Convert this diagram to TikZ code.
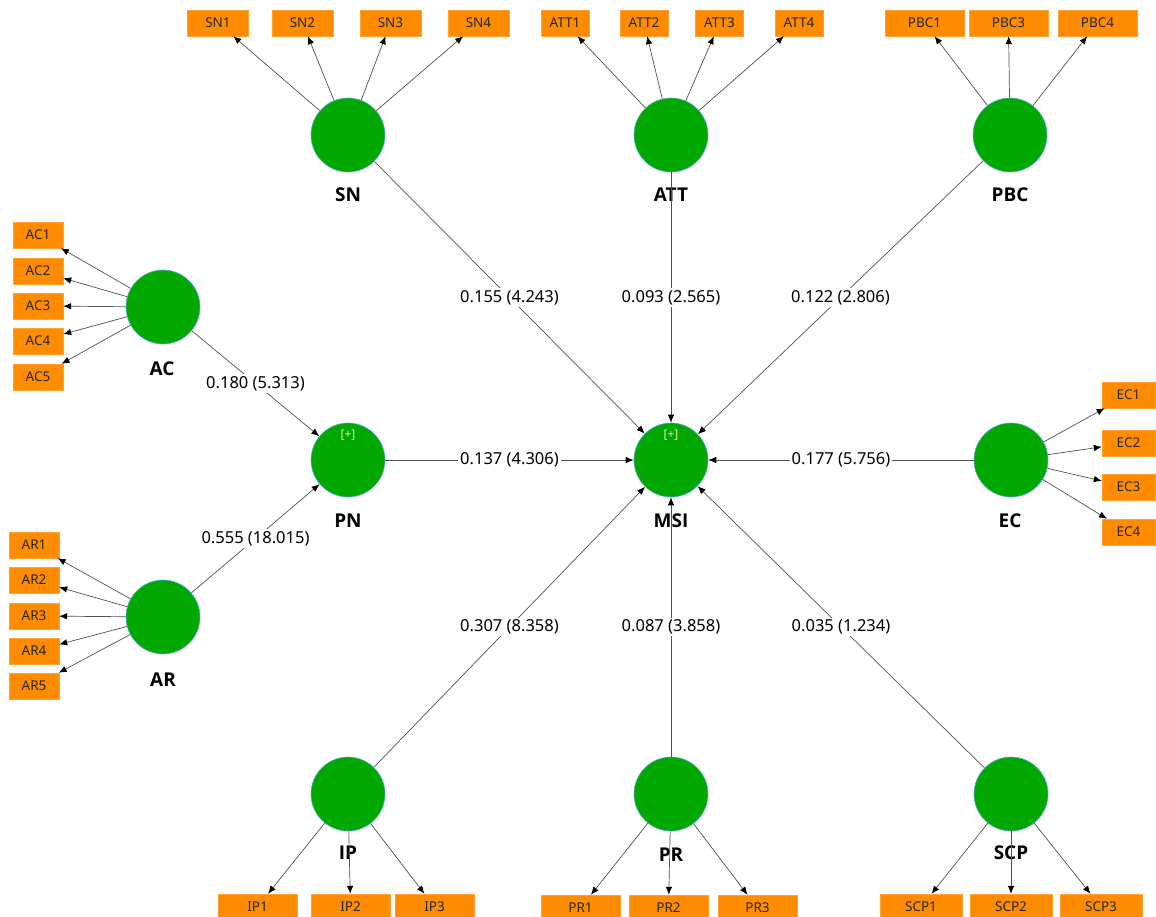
\documentclass[tikz,border=0pt]{standalone}
\usepackage{fontspec}
\setmainfont{Noto Sans}
\newfontfamily\lblfont{Open Sans}
\usetikzlibrary{arrows.meta}
\definecolor{lvgreen}{RGB}{0,168,0}
\definecolor{lvedge}{RGB}{90,170,220}
\definecolor{indorange}{RGB}{255,140,0}
\definecolor{linegray}{RGB}{80,80,80}
\definecolor{plusc}{RGB}{225,240,170}
\tikzset{
  lv/.style={circle,fill=lvgreen,draw=lvedge,line width=0.6pt,minimum size=74pt,inner sep=0pt},
  lvname/.style={font=\lblfont\fontsize{19}{21}\selectfont\bfseries,text=black,inner sep=0pt},
  ind/.style={rectangle,fill=indorange,draw=indorange!80!white,line width=0.4pt,minimum height=26pt,inner sep=0pt,font=\fontsize{13.5}{15}\selectfont,text=black!85},
  ld/.style={draw=linegray,line width=0.7pt,-{Latex[length=8pt,width=6.5pt,color=black,fill=black]}},
  coef/.style={fill=white,inner sep=2pt,font=\fontsize{16.5}{18}\selectfont,text=black},
  plus/.style={font=\fontsize{12}{13}\selectfont,text=plusc,inner sep=0pt}
}
\begin{document}
\begin{tikzpicture}[x=1pt,y=-1pt]
\useasboundingbox (0,0) rectangle (1156,917);
% latent variables
\node[lv] (SN) at (348,135) {};
\node[lv] (ATT) at (671,135) {};
\node[lv] (PBC) at (1010,135) {};
\node[lv] (AC) at (163,307) {};
\node[lv] (PN) at (348,460) {};
\node[lv] (MSI) at (671,460) {};
\node[lv] (EC) at (1011,460) {};
\node[lv] (AR) at (163,617) {};
\node[lv] (IP) at (348,794) {};
\node[lv] (PR) at (671,794) {};
\node[lv] (SCP) at (1011,794) {};
\node[plus] (PNp) at (348,435) {[+]};
\node[plus] (MSIp) at (671,435) {[+]};
% names
\node[lvname] (SNl) at (348,195) {SN};
\node[lvname] (ATTl) at (671,195) {ATT};
\node[lvname] (PBCl) at (1010,195) {PBC};
\node[lvname] (ACl) at (162,369) {AC};
\node[lvname] (PNl) at (348,521) {PN};
\node[lvname] (MSIl) at (671,521) {MSI};
\node[lvname] (ECl) at (1010,521) {EC};
\node[lvname] (ARl) at (163,680) {AR};
\node[lvname] (IPl) at (348,853) {IP};
\node[lvname] (PRl) at (671,855) {PR};
\node[lvname] (SCPl) at (1011,853) {SCP};
% indicators
\node[ind,minimum width=61pt] (SN1) at (218,23) {SN1};
\node[ind,minimum width=61pt] (SN2) at (302.5,23) {SN2};
\node[ind,minimum width=61pt] (SN3) at (390.5,23) {SN3};
\node[ind,minimum width=61pt] (SN4) at (478.5,23) {SN4};
\node[ind,minimum width=48pt] (ATT1) at (565,23) {ATT1};
\node[ind,minimum width=48pt] (ATT2) at (644,23) {ATT2};
\node[ind,minimum width=48pt] (ATT3) at (719.5,23) {ATT3};
\node[ind,minimum width=48pt] (ATT4) at (799,23) {ATT4};
\node[ind,minimum width=79pt] (PBC1) at (924.5,23) {PBC1};
\node[ind,minimum width=79pt] (PBC3) at (1008.5,23) {PBC3};
\node[ind,minimum width=79pt] (PBC4) at (1097.5,23) {PBC4};
\node[ind,minimum width=50pt] (AC1) at (38,235) {AC1};
\node[ind,minimum width=50pt] (AC2) at (38,271) {AC2};
\node[ind,minimum width=50pt] (AC3) at (38,306) {AC3};
\node[ind,minimum width=50pt] (AC4) at (38,341) {AC4};
\node[ind,minimum width=50pt] (AC5) at (38,377) {AC5};
\node[ind,minimum width=50pt] (AR1) at (34,545) {AR1};
\node[ind,minimum width=50pt] (AR2) at (34,580) {AR2};
\node[ind,minimum width=50pt] (AR3) at (34,616) {AR3};
\node[ind,minimum width=50pt] (AR4) at (34,651) {AR4};
\node[ind,minimum width=50pt] (AR5) at (34,686) {AR5};
\node[ind,minimum width=53pt] (EC1) at (1128.5,395) {EC1};
\node[ind,minimum width=53pt] (EC2) at (1128.5,443) {EC2};
\node[ind,minimum width=53pt] (EC3) at (1128.5,487) {EC3};
\node[ind,minimum width=53pt] (EC4) at (1128.5,532) {EC4};
\node[ind,minimum width=79pt] (IP1) at (257.5,907) {IP1};
\node[ind,minimum width=79pt] (IP2) at (350.5,907) {IP2};
\node[ind,minimum width=79pt] (IP3) at (434.5,907) {IP3};
\node[ind,minimum width=79pt] (PR1) at (580.5,908) {PR1};
\node[ind,minimum width=79pt] (PR2) at (668.5,908) {PR2};
\node[ind,minimum width=79pt] (PR3) at (757.5,908) {PR3};
\node[ind,minimum width=82pt] (SCP1) at (921,907) {SCP1};
\node[ind,minimum width=82pt] (SCP2) at (1011,907) {SCP2};
\node[ind,minimum width=82pt] (SCP3) at (1101,907) {SCP3};
% outer loadings
\foreach \a/\b in {SN/SN1,SN/SN2,SN/SN3,SN/SN4,ATT/ATT1,ATT/ATT2,ATT/ATT3,ATT/ATT4,
  PBC/PBC1,PBC/PBC3,PBC/PBC4,AC/AC1,AC/AC2,AC/AC3,AC/AC4,AC/AC5,
  AR/AR1,AR/AR2,AR/AR3,AR/AR4,AR/AR5,EC/EC1,EC/EC2,EC/EC3,EC/EC4,
  IP/IP1,IP/IP2,IP/IP3,PR/PR1,PR/PR2,PR/PR3,SCP/SCP1,SCP/SCP2,SCP/SCP3}
  {\draw[ld] (\a) -- (\b);}
% structural paths
\draw[ld] (SN) -- node[coef]{0.155 (4.243)} (MSI);
\draw[ld] (ATT) -- node[coef]{0.093 (2.565)} (MSI);
\draw[ld] (PBC) -- node[coef]{0.122 (2.806)} (MSI);
\draw[ld] (AC) -- node[coef]{0.180 (5.313)} (PN);
\draw[ld] (PN) -- node[coef]{0.137 (4.306)} (MSI);
\draw[ld] (EC) -- node[coef]{0.177 (5.756)} (MSI);
\draw[ld] (AR) -- node[coef]{0.555 (18.015)} (PN);
\draw[ld] (IP) -- node[coef]{0.307 (8.358)} (MSI);
\draw[ld] (PR) -- node[coef]{0.087 (3.858)} (MSI);
\draw[ld] (SCP) -- node[coef]{0.035 (1.234)} (MSI);
\end{tikzpicture}
\end{document}
